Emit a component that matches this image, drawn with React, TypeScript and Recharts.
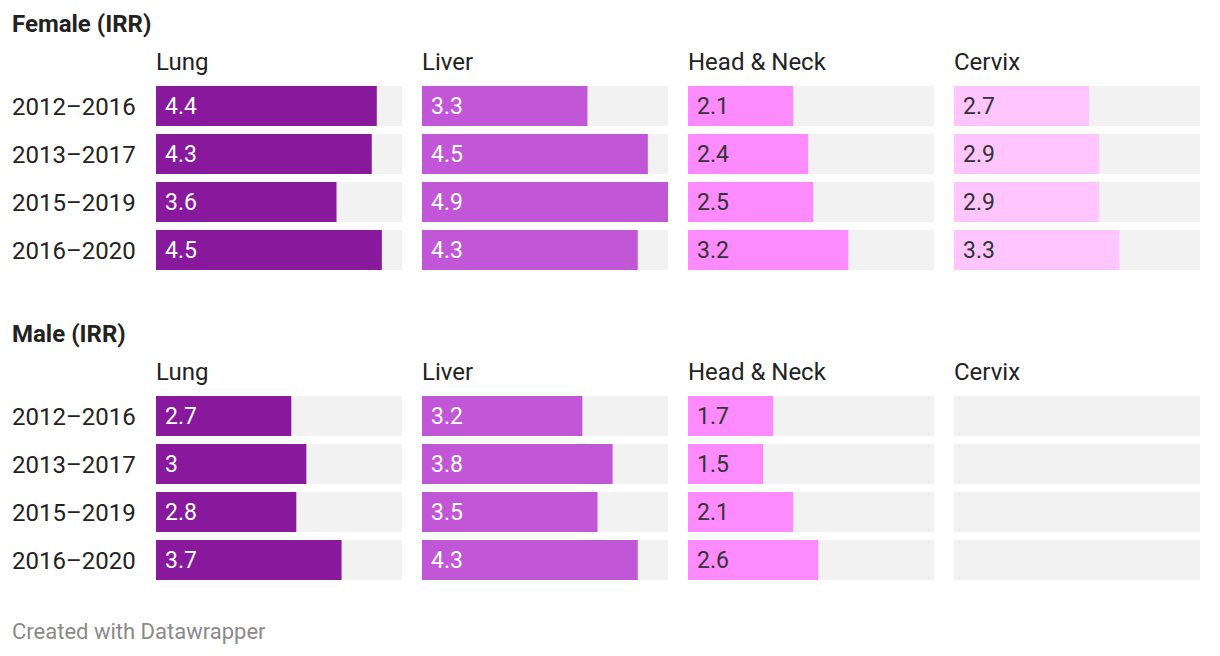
import { BarChart, Bar, XAxis, YAxis, LabelList } from 'recharts';

const periods = ['2012–2016', '2013–2017', '2015–2019', '2016–2020'];
const cancers = ['Lung', 'Liver', 'Head & Neck', 'Cervix'];

const femaleLung = [4.4, 4.3, 3.6, 4.5];
const femaleLiver = [3.3, 4.5, 4.9, 4.3];
const femaleHeadNeck = [2.1, 2.4, 2.5, 3.2];
const femaleCervix = [2.7, 2.9, 2.9, 3.3];

const maleLung = [2.7, 3, 2.8, 3.7];
const maleLiver = [3.2, 3.8, 3.5, 4.3];
const maleHeadNeck = [1.7, 1.5, 2.1, 2.6];
const maleCervix: (number | null)[] = [null, null, null, null];

const barColors = ['#88199c', '#c156d6', '#fd8bfd', '#fec5fe'];
const labelColors = ['#ffffff', '#ffffff', '#333333', '#333333'];
const FONT = 'Roboto, "Noto Sans", sans-serif';
const DOMAIN_MAX = 4.9;

const PANEL_LEFT = [156, 422, 688, 954];
const PANEL_W = 246;

const RowTick = ({ y, payload }: any) => (
  <text x={12} y={y} dy="0.36em" textAnchor="start" fontSize={24} fontFamily={FONT} fill="#222">
    {payload.value}
  </text>
);

const Panel = ({ values, idx, top }: { values: (number | null)[]; idx: number; top: number }) => {
  // grey track = remainder up to the shared max, so empty rows still show it
  const data = periods.map((p, i) => ({
    period: p,
    value: values[i],
    track: DOMAIN_MAX - (values[i] ?? 0),
  }));
  const withAxis = idx === 0;
  const left = withAxis ? 0 : PANEL_LEFT[idx];
  const width = withAxis ? PANEL_LEFT[0] + PANEL_W : PANEL_W;
  return (
    <div style={{ position: 'absolute', left, top }}>
      <BarChart
        width={width}
        height={192}
        data={data}
        layout="vertical"
        margin={{ top: 0, right: 0, bottom: 0, left: 0 }}
        barSize={40}
      >
        <XAxis type="number" domain={[0, DOMAIN_MAX]} allowDataOverflow hide />
        <YAxis
          type="category"
          dataKey="period"
          hide={!withAxis}
          width={PANEL_LEFT[0]}
          axisLine={false}
          tickLine={false}
          tick={<RowTick />}
        />
        <Bar dataKey="value" stackId="a" fill={barColors[idx]} isAnimationActive={false}>
          <LabelList
            dataKey="value"
            position="insideLeft"
            offset={9}
            fill={labelColors[idx]}
            fontSize={23}
            fontFamily={FONT}
            formatter={(v: any) => (v == null ? '' : String(v))}
          />
        </Bar>
        <Bar dataKey="track" stackId="a" fill="#f2f2f2" isAnimationActive={false} />
      </BarChart>
    </div>
  );
};

const Section = ({ title, series, top }: { title: string; series: (number | null)[][]; top: number }) => (
  <>
    <div
      style={{
        position: 'absolute',
        left: 12,
        top: top,
        fontSize: 24,
        fontWeight: 700,
        lineHeight: '24px',
        fontFamily: FONT,
        color: '#222',
        whiteSpace: 'nowrap',
      }}
    >
      {title}
    </div>
    {cancers.map((c, i) => (
      <div
        key={c}
        style={{
          position: 'absolute',
          left: PANEL_LEFT[i],
          top: top + 37,
          fontSize: 24,
          lineHeight: '26px',
          fontFamily: FONT,
          color: '#222',
          whiteSpace: 'nowrap',
        }}
      >
        {c}
      </div>
    ))}
    {series.map((vals, i) => (
      <Panel key={i} values={vals} idx={i} top={top + 70} />
    ))}
  </>
);

export default function App() {
  return (
    <div
      style={{
        position: 'absolute',
        left: 0,
        top: 0,
        width: 1220,
        height: 656,
        background: '#fff',
        overflow: 'hidden',
      }}
    >
      <Section title="Female (IRR)" series={[femaleLung, femaleLiver, femaleHeadNeck, femaleCervix]} top={12} />
      <Section title="Male (IRR)" series={[maleLung, maleLiver, maleHeadNeck, maleCervix]} top={322} />
      <div
        style={{
          position: 'absolute',
          left: 12,
          top: 621,
          fontSize: 22,
          lineHeight: '22px',
          fontFamily: FONT,
          color: '#8a8a8a',
          whiteSpace: 'nowrap',
        }}
      >
        Created with Datawrapper
      </div>
    </div>
  );
}
